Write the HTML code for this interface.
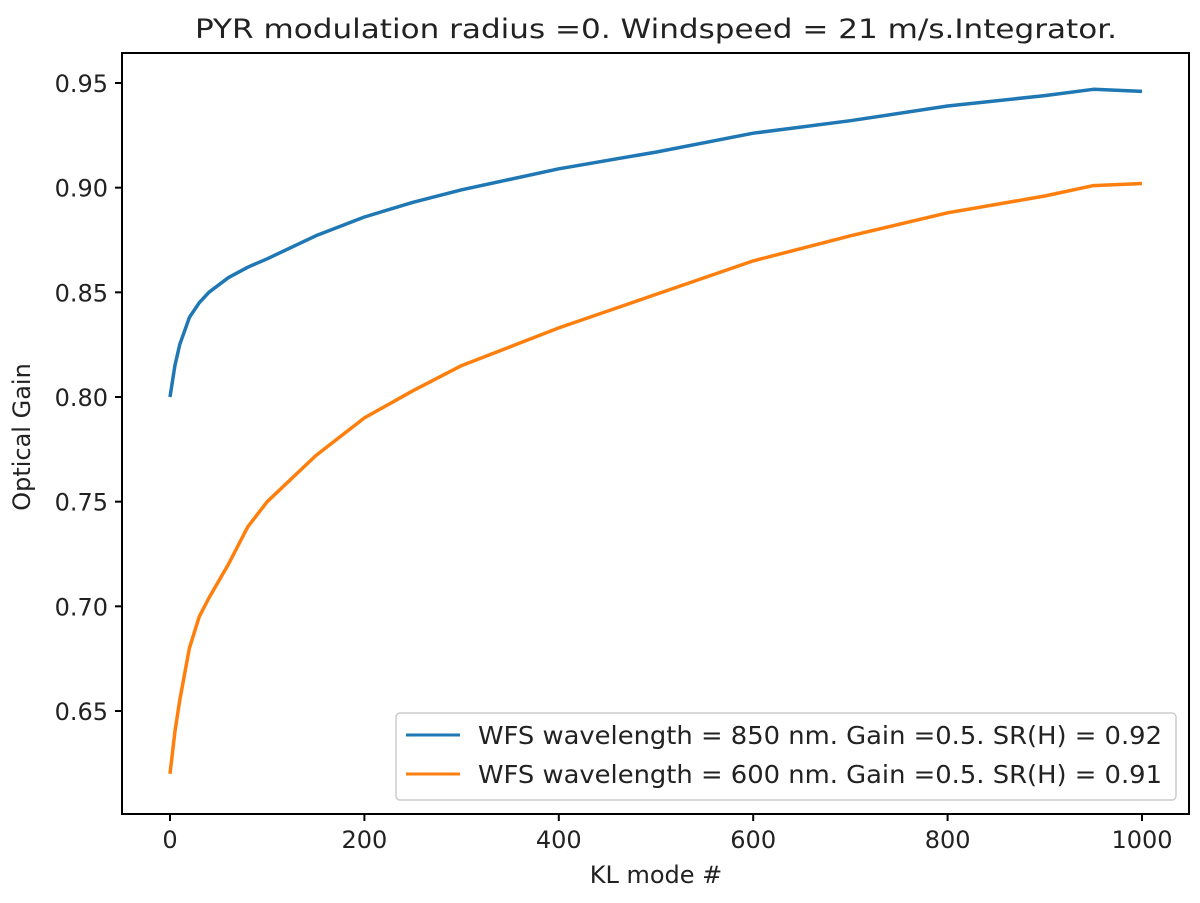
<!DOCTYPE html>
<html><head><meta charset="utf-8"><style>
body{margin:0;background:#fff;}
svg text{font-family:"DejaVu Sans","Liberation Sans",sans-serif;fill:#222;}
</style></head><body>
<svg id="chart" width="1200" height="898" xmlns="http://www.w3.org/2000/svg">
<text x="656" y="38" font-size="26.5" text-anchor="middle" textLength="922" lengthAdjust="spacingAndGlyphs">PYR modulation radius =0. Windspeed = 21 m/s.Integrator.</text>
<g id="series"></g>
<rect x="122" y="53" width="1067" height="761" fill="none" stroke="#000" stroke-width="2"/>
<g id="xticks"></g>
<g id="yticks"></g>
<text x="656" y="883" font-size="24" text-anchor="middle">KL mode #</text>
<text transform="translate(30,437) rotate(-90)" font-size="24" text-anchor="middle">Optical Gain</text>
<g>
<rect x="396" y="713" width="780" height="87" rx="4" fill="#fff" stroke="#ccc" stroke-width="1.5"/>
<line x1="406" y1="735" x2="460" y2="735" stroke="#1f77b4" stroke-width="3"/>
<text x="478" y="744" font-size="25" textLength="684" lengthAdjust="spacingAndGlyphs">WFS wavelength = 850 nm. Gain =0.5. SR(H) = 0.92</text>
<line x1="406" y1="774" x2="460" y2="774" stroke="#ff7f0e" stroke-width="3"/>
<text x="478" y="783" font-size="25" textLength="684" lengthAdjust="spacingAndGlyphs">WFS wavelength = 600 nm. Gain =0.5. SR(H) = 0.91</text>
</g>
</svg>
<script>
const xModes=[0,5,10,20,30,40,60,80,100,150,200,250,300,400,500,600,700,800,900,950,1000];
const blueGain=[0.800,0.815,0.825,0.838,0.845,0.850,0.857,0.862,0.866,0.877,0.886,0.893,0.899,0.909,0.917,0.926,0.932,0.939,0.944,0.947,0.946];
const orangeGain=[0.620,0.640,0.655,0.680,0.695,0.704,0.720,0.738,0.750,0.772,0.790,0.803,0.815,0.833,0.849,0.865,0.877,0.888,0.896,0.901,0.902];
const xTickVals=[0,200,400,600,800,1000];
const yTickVals=[0.65,0.70,0.75,0.80,0.85,0.90,0.95];
const yTickLabels=["0.65","0.70","0.75","0.80","0.85","0.90","0.95"];
const NS="http://www.w3.org/2000/svg";
function xs(v){return 170+v*0.972;}
function ys(v){return 83+(0.95-v)*2093.3;}
function mk(t,a,p){const e=document.createElementNS(NS,t);for(const k in a)e.setAttribute(k,a[k]);p.appendChild(e);return e;}
const sg=document.getElementById('series');
function line(vals,color,name){
  const pts=xModes.map((x,i)=>xs(x).toFixed(1)+','+ys(vals[i]).toFixed(1)).join(' ');
  const p=mk('polyline',{points:pts,fill:'none',stroke:color,'stroke-width':3.5,'stroke-linejoin':'round'},sg);
  
  
}
line(blueGain,'#1f77b4','line-850nm');
line(orangeGain,'#ff7f0e','line-600nm');
const xg=document.getElementById('xticks');
xTickVals.forEach(v=>{
  const l=mk('line',{x1:xs(v),x2:xs(v),y1:814,y2:821,stroke:'#000','stroke-width':2},xg);
  
  
  const t=mk('text',{x:xs(v),y:848,'font-size':24,'text-anchor':'middle'},xg);
  t.textContent=v;
  
  
});
const yg=document.getElementById('yticks');
yTickVals.forEach((v,i)=>{
  const l=mk('line',{x1:115,x2:122,y1:ys(v),y2:ys(v),stroke:'#000','stroke-width':2},yg);
  
  
  const t=mk('text',{x:108,y:ys(v)+9,'font-size':24,'text-anchor':'end'},yg);
  t.textContent=yTickLabels[i];
  
  
});
</script>
</body></html>
